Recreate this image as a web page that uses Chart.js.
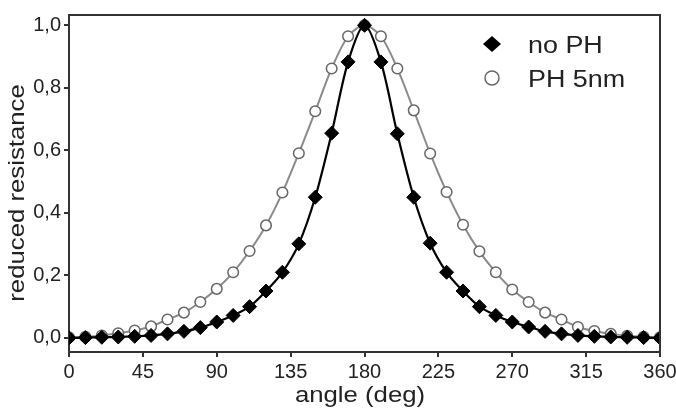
<!DOCTYPE html>
<html>
<head>
<meta charset="utf-8">
<script src="https://cdn.jsdelivr.net/npm/chart.js@4"></script>
<style>
  html, body { margin: 0; padding: 0; background: #fff; }
  #wrap { width: 676px; height: 417px; }
</style>
</head>
<body>
<div id="wrap"><canvas id="resChart" width="676" height="417"></canvas></div>
<script>
// ===== DATA =====
const angles = [0,10,20,30,40,50,60,70,80,90,100,110,120,130,140,150,160,170,180,
  190,200,210,220,230,240,250,260,270,280,290,300,310,320,330,340,350,360];
const noPH = [0,0.001,0.002,0.003,0.005,0.008,0.013,0.021,0.033,0.051,0.072,0.10,0.15,0.21,0.301,0.45,0.655,0.883,1.0,
  0.883,0.653,0.45,0.303,0.21,0.15,0.10,0.072,0.051,0.035,0.021,0.013,0.008,0.005,0.003,0.002,0.001,0];
const ph5nm = [0.002,0.004,0.008,0.015,0.024,0.037,0.059,0.081,0.115,0.157,0.21,0.278,0.36,0.465,0.591,0.725,0.862,0.965,1.0,
  0.965,0.862,0.728,0.59,0.467,0.362,0.277,0.21,0.155,0.115,0.081,0.059,0.035,0.022,0.013,0.007,0.004,0.002];
const xTicks = [0,45,90,135,180,225,270,315,360];
const yTicks = [0,0.2,0.4,0.6,0.8,1.0];
const seriesNames = ['no PH', 'PH 5nm'];
const xTitle = 'angle (deg)';
const yTitle = 'reduced resistance';

const FONT = "'Liberation Sans', Arial, sans-serif";
const AXIS = '#333';
const TEXT = '#222';
const STRETCH = 1.17; // text in the original is a bit wider than Arial

function wideText(ctx, str, x, y, size, align, rot) {
  ctx.save();
  ctx.translate(x, y);
  if (rot) ctx.rotate(rot);
  ctx.scale(STRETCH, 1);
  ctx.font = size + 'px ' + FONT;
  ctx.fillStyle = TEXT;
  ctx.textAlign = align;
  ctx.textBaseline = 'alphabetic';
  ctx.fillText(str, 0, 0);
  ctx.restore();
}

// frame on top and right, axis titles, legend inside the plot
const framePlugin = {
  id: 'frame',
  afterDraw(chart) {
    const { ctx, chartArea: a } = chart;
    ctx.save();
    ctx.strokeStyle = AXIS;
    ctx.lineWidth = 2;
    ctx.beginPath();
    ctx.moveTo(a.left, a.top);
    ctx.lineTo(a.right, a.top);
    ctx.lineTo(a.right, a.bottom);
    ctx.stroke();
    ctx.restore();

    wideText(ctx, xTitle, 360, 402, 22, 'center', 0);
    wideText(ctx, yTitle, 24, 193, 22, 'center', -Math.PI / 2);

    // legend
    const lx = 492, ly = [44, 78], base = [53, 87];
    chart.data.datasets.forEach((ds, i) => {
      ctx.save();
      ctx.beginPath();
      if (ds.pointStyle === 'rectRot') {
        ctx.moveTo(lx, ly[i] - 8);
        ctx.lineTo(lx + 9, ly[i]);
        ctx.lineTo(lx, ly[i] + 8);
        ctx.lineTo(lx - 9, ly[i]);
        ctx.closePath();
        ctx.fillStyle = ds.pointBackgroundColor;
        ctx.fill();
      } else {
        ctx.arc(lx, ly[i], 7, 0, Math.PI * 2);
        ctx.fillStyle = ds.pointBackgroundColor;
        ctx.fill();
        ctx.strokeStyle = ds.pointBorderColor;
        ctx.lineWidth = 1.5;
        ctx.stroke();
      }
      ctx.restore();
      wideText(ctx, ds.label, 528, base[i], 23, 'left', 0);
    });
  }
};

// ===== CHART =====
const ctx = document.getElementById('resChart');
new Chart(ctx, {
  type: 'line',
  data: {
    labels: angles,
    datasets: [{
      label: seriesNames[0],
      data: angles.map((a, i) => ({ x: a, y: noPH[i] })),
      borderColor: '#000',
      borderWidth: 2.2,
      pointStyle: 'rectRot',
      pointRadius: 7,
      pointBackgroundColor: '#000',
      pointBorderColor: '#000',
      pointBorderWidth: 1,
      tension: 0.3,
      fill: false
    }, {
      label: seriesNames[1],
      data: angles.map((a, i) => ({ x: a, y: ph5nm[i] })),
      borderColor: '#8a8a8a',
      borderWidth: 2,
      pointStyle: 'circle',
      pointRadius: 5.3,
      pointBackgroundColor: '#fff',
      pointBorderColor: '#666',
      pointBorderWidth: 1.5,
      tension: 0.3,
      fill: false
    }]
  },
  options: {
    responsive: false,
    animation: false,
    layout: { padding: { top: 15, right: 16, left: 0, bottom: 0 } },
    plugins: { legend: { display: false }, tooltip: { enabled: false } },
    scales: {
      x: {
        type: 'linear',
        min: 0, max: 360,
        afterBuildTicks: s => { s.ticks = xTicks.map(v => ({ value: v })); },
        afterFit: s => { s.height = 65; s.paddingLeft = 0; s.paddingRight = 0; },
        grid: { drawOnChartArea: false, drawTicks: true, tickLength: 5, color: AXIS, lineWidth: 2 },
        border: { color: AXIS, width: 2 },
        ticks: { color: TEXT, font: { family: FONT, size: 20 }, padding: 3, maxRotation: 0 }
      },
      y: {
        type: 'linear',
        min: -0.045, max: 1.033,
        afterBuildTicks: s => { s.ticks = yTicks.map(v => ({ value: v })); },
        afterFit: s => { s.width = 69; s.paddingTop = 0; s.paddingBottom = 0; },
        grid: { drawOnChartArea: false, drawTicks: true, tickLength: 5, color: AXIS, lineWidth: 2 },
        border: { color: AXIS, width: 2 },
        ticks: { color: TEXT, font: { family: FONT, size: 20 }, padding: 3,
          callback: v => v.toFixed(1).replace('.', ',') }
      }
    }
  },
  plugins: [framePlugin]
});
</script>
</body>
</html>
